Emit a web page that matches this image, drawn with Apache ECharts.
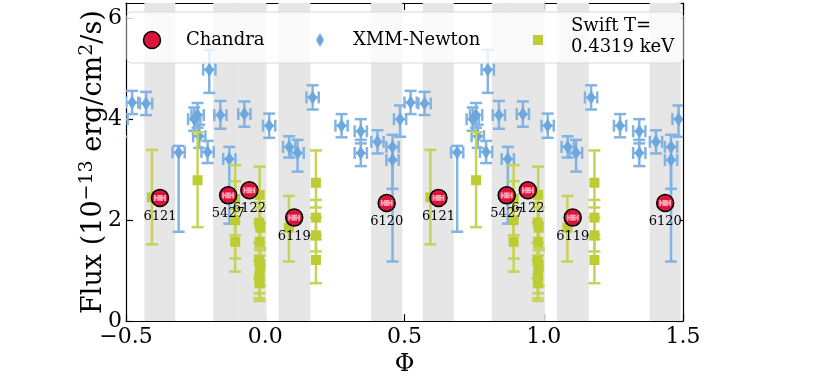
<!DOCTYPE html>
<html>
<head>
<meta charset="utf-8">
<script src="https://cdn.jsdelivr.net/npm/echarts@6/dist/echarts.min.js"></script>
<style>html, body { margin: 0; padding: 0; background: #fff; }</style>
</head>
<body>
<div id="main" style="width: 830px; height: 382px"></div>
<script>
// Chandra observations (one phase cycle)
var chandraObs = ['6121', '5427', '6122', '6119', '6120'];
var chandraPhase = [-0.378, -0.133, -0.057, 0.104, 0.436];
var chandraFlux = [2.44, 2.49, 2.59, 2.05, 2.34];

// XMM-Newton points: flux with lower / upper error ends
var xmmPhase = [-0.478, -0.428, -0.311, -0.255, -0.243, -0.237, -0.201, -0.207, -0.161, -0.129, -0.075,
                0.014, 0.086, 0.116, 0.170, 0.274, 0.343, 0.343, 0.403, 0.457, 0.457, 0.484];
var xmmFlux = [4.33, 4.31, 3.34, 4.00, 4.08, 3.66, 4.98, 3.35, 4.08, 3.21, 4.10,
               3.87, 3.45, 3.33, 4.43, 3.87, 3.76, 3.33, 3.55, 3.45, 3.19, 4.00];
var xmmLow = [4.10, 4.08, 1.77, 3.77, 3.83, 3.43, 4.52, 3.13, 3.81, 1.93, 3.85,
              3.63, 3.24, 2.96, 4.19, 3.64, 3.52, 3.07, 3.32, 2.62, 1.18, 3.65];
var xmmHigh = [4.56, 4.54, 3.47, 4.23, 4.32, 3.89, 5.37, 3.57, 4.36, 3.45, 4.35,
               4.11, 3.66, 3.59, 4.67, 4.10, 4.00, 3.59, 3.78, 3.69, 3.45, 4.27];

// Swift points
var swiftPhase = [-0.407, -0.243, -0.108, -0.108, -0.108, -0.020, -0.022, -0.018, -0.020, -0.022, -0.018, -0.020, -0.022, -0.020,
                  0.085, 0.182, 0.182, 0.182, 0.182];
var swiftFlux = [2.45, 2.79, 2.42, 2.00, 1.57, 2.50, 1.95, 1.85, 1.57, 1.20, 1.08, 0.95, 0.85, 0.75,
                 1.85, 2.74, 2.05, 1.70, 1.21];
var swiftLow = [1.52, 1.86, 1.70, 1.24, 0.98, 1.95, 1.55, 1.40, 1.20, 0.85, 0.70, 0.55, 0.45, 0.40,
                1.18, 2.25, 1.70, 1.38, 0.75];
var swiftHigh = [3.39, 3.74, 3.09, 2.77, 2.22, 3.06, 2.35, 2.25, 1.95, 1.55, 1.45, 1.30, 1.20, 1.10,
                 2.48, 3.38, 2.40, 2.05, 1.62];

// grey phase bands of the Chandra exposures
var bandStart = [-0.434, -0.187, -0.118, 0.047, 0.380];
var bandEnd = [-0.323, -0.075, 0.004, 0.162, 0.492];

var cycleShift = [-1, 0, 1]; // phase folded plot, drawn over two cycles
var xTicks = [-0.5, 0.0, 0.5, 1.0, 1.5];
var yTicks = [0, 2, 4, 6];

var FONT = 'DejaVu Serif';

function fold(phase, rows) {
  var out = [];
  cycleShift.forEach(function (s) {
    phase.forEach(function (p, i) {
      var x = p + s;
      if (x < -0.6 || x > 1.6) return;
      out.push([x].concat(rows(i)));
    });
  });
  return out;
}

var chandraData = fold(chandraPhase, function (i) {
  return [chandraFlux[i], chandraFlux[i] - 0.04, chandraFlux[i] + 0.04, 0.018, chandraObs[i]];
});
var xmmData = fold(xmmPhase, function (i) {
  return [xmmFlux[i], xmmLow[i], xmmHigh[i], 0.022];
});
var swiftData = fold(swiftPhase, function (i) {
  return [swiftFlux[i], swiftLow[i], swiftHigh[i], 0];
});

// bands plus a slightly darker patch where two of them overlap
var bands = [];
cycleShift.forEach(function (s) {
  bandStart.forEach(function (b, i) {
    var a = Math.max(b + s, -0.5), e = Math.min(bandEnd[i] + s, 1.5);
    if (a < e) bands.push([{ xAxis: a, itemStyle: { color: '#e6e6e6' } }, { xAxis: e }]);
    bandStart.forEach(function (b2, j) {
      if (j <= i) return;
      var oa = Math.max(a, b2 + s), oe = Math.min(e, bandEnd[j] + s);
      if (oa < oe) bands.push([{ xAxis: oa, itemStyle: { color: '#dcdcdc' } }, { xAxis: oe }]);
    });
  });
});

// error bar drawing for the custom series
function errorBars(color, width, cap) {
  return function (params, api) {
    var x = api.value(0), y = api.value(1);
    var lo = api.coord([x, api.value(2)]);
    var hi = api.coord([x, api.value(3)]);
    var xe = api.value(4);
    var style = { stroke: color, lineWidth: width };
    var kids = [
      { type: 'line', shape: { x1: lo[0], y1: lo[1], x2: hi[0], y2: hi[1] }, style: style },
      { type: 'line', shape: { x1: lo[0] - cap, y1: lo[1], x2: lo[0] + cap, y2: lo[1] }, style: style },
      { type: 'line', shape: { x1: hi[0] - cap, y1: hi[1], x2: hi[0] + cap, y2: hi[1] }, style: style }
    ];
    if (xe > 0) {
      var l = api.coord([x - xe, y]);
      var r = api.coord([x + xe, y]);
      kids.push({ type: 'line', shape: { x1: l[0], y1: l[1], x2: r[0], y2: r[1] }, style: style });
      kids.push({ type: 'line', shape: { x1: l[0], y1: l[1] - cap, x2: l[0], y2: l[1] + cap }, style: style });
      kids.push({ type: 'line', shape: { x1: r[0], y1: r[1] - cap, x2: r[0], y2: r[1] + cap }, style: style });
    }
    return { type: 'group', children: kids };
  };
}

var chartDom = document.getElementById('main');
var myChart = echarts.init(chartDom, null, { renderer: 'canvas' });

var axisCommon = {
  axisLine: { show: true, onZero: false, lineStyle: { color: '#000', width: 1.2 } },
  axisTick: { show: true, inside: true, length: 7, lineStyle: { color: '#000', width: 1.2 } },
  splitLine: { show: false }
};

var option = {
  animation: false,
  grid: { left: 126, right: 147, top: 3, bottom: 55 },
  xAxis: [
    Object.assign({
      type: 'value', min: -0.5, max: 1.5, interval: 0.5,
      name: 'Φ', nameLocation: 'middle', nameGap: 22,
      nameTextStyle: { fontFamily: FONT, fontSize: 24, color: '#000' },
      axisLabel: {
        margin: 5, fontFamily: FONT, fontSize: 22, color: '#000',
        formatter: function (v) { return (v < 0 ? '\u2212' : '') + Math.abs(v).toFixed(1); }
      }
    }, axisCommon),
    Object.assign({
      type: 'value', min: -0.5, max: 1.5, interval: 0.5, position: 'top',
      axisLabel: { show: false }
    }, axisCommon)
  ],
  yAxis: [
    Object.assign({
      type: 'value', min: 0, max: 6.3, interval: 2,
      name: '{a|Flux (10}{s|\u221213}{a| erg/cm}{s|2}{a|/s)}', nameLocation: 'middle',
      nameGap: 16, nameMoveOverlap: false,
      nameTextStyle: {
        color: '#000',
        rich: {
          a: { fontFamily: FONT, fontSize: 27, color: '#000' },
          s: { fontFamily: FONT, fontSize: 19, color: '#000', padding: [0, 0, 13, 0] }
        }
      },
      axisLabel: {
        margin: 4, fontFamily: FONT, fontSize: 22, color: '#000',
        showMaxLabel: false,
        formatter: function (v) { return yTicks.indexOf(v) >= 0 ? String(v) : ''; }
      }
    }, axisCommon),
    Object.assign({
      type: 'value', min: 0, max: 6.3, interval: 2, position: 'right',
      axisLabel: { show: false }
    }, axisCommon)
  ],
  graphic: [
    // legend box
    { type: 'rect', z: 100, shape: { x: 127, y: 12, width: 556, height: 51, r: 4 },
      style: { fill: 'rgba(255,255,255,0.8)', stroke: '#d8d8d8', lineWidth: 1 } },
    { type: 'circle', z: 101, shape: { cx: 152, cy: 40, r: 8.5 },
      style: { fill: '#dc143c', stroke: '#000', lineWidth: 1.5 } },
    { type: 'text', z: 101, x: 186, y: 40,
      style: { text: 'Chandra', fontFamily: FONT, fontSize: 18, fill: '#000', verticalAlign: 'middle' } },
    { type: 'polygon', z: 101, shape: { points: [[320, 33], [324, 40], [320, 47], [316, 40]] },
      style: { fill: '#6ca7dd' } },
    { type: 'text', z: 101, x: 353, y: 40,
      style: { text: 'XMM-Newton', fontFamily: FONT, fontSize: 18, fill: '#000', verticalAlign: 'middle' } },
    { type: 'rect', z: 101, shape: { x: 533, y: 35, width: 10, height: 10 },
      style: { fill: '#bccd34' } },
    { type: 'text', z: 101, x: 571, y: 37,
      style: { text: 'Swift T=\n0.4319 keV', fontFamily: FONT, fontSize: 18, lineHeight: 21, fill: '#000', verticalAlign: 'middle' } }
  ],
  series: [
    {
      type: 'scatter', name: 'bands', z: 1, silent: true, data: [],
      markArea: { silent: true, data: bands }
    },
    {
      type: 'custom', name: 'XMM err', z: 2, clip: true,
      renderItem: errorBars('#82b3e2', 2.5, 6),
      data: xmmData
    },
    {
      type: 'scatter', name: 'XMM-Newton', z: 3,
      symbol: 'diamond', symbolSize: [9, 14],
      itemStyle: { color: '#6ca7dd', opacity: 1 },
      data: xmmData.map(function (d) { return [d[0], d[1]]; })
    },
    {
      type: 'custom', name: 'Swift err', z: 4, clip: true,
      renderItem: errorBars('#c6d35a', 2.5, 6),
      data: swiftData
    },
    {
      type: 'scatter', name: 'Swift', z: 5,
      symbol: 'rect', symbolSize: 10,
      itemStyle: { color: '#bccd34', opacity: 1 },
      data: swiftData.map(function (d) { return [d[0], d[1]]; })
    },
    {
      type: 'scatter', name: 'Chandra', z: 6,
      symbol: 'circle', symbolSize: 17,
      itemStyle: { color: '#dc143c', borderColor: '#000', borderWidth: 1.5, opacity: 1 },
      label: {
        show: true, position: 'bottom', distance: 3,
        fontFamily: FONT, fontSize: 13, color: '#000',
        formatter: function (p) { return p.data.name; }
      },
      data: chandraData.map(function (d) { return { name: d[5], value: [d[0], d[1]] }; })
    },
    {
      type: 'custom', name: 'Chandra err', z: 7, clip: true,
      renderItem: errorBars('#f7a9b9', 1.8, 3),
      data: chandraData.map(function (d) { return d.slice(0, 5); })
    }
  ]
};

option && myChart.setOption(option);
</script>
</body>
</html>
